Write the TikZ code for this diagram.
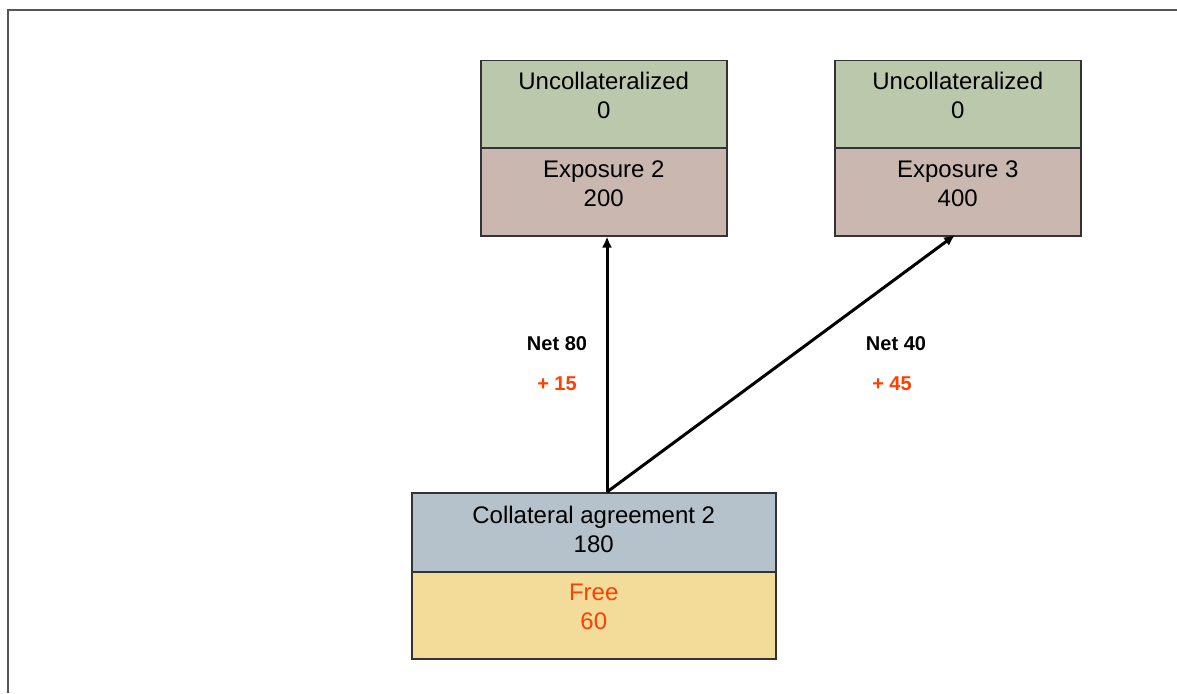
\documentclass[tikz,border=0pt]{standalone}
\usepackage{fontspec}
\setmainfont{Liberation Sans}
\usetikzlibrary{arrows.meta}
\definecolor{gbox}{RGB}{188,200,172}
\definecolor{pbox}{RGB}{201,183,176}
\definecolor{bbox}{RGB}{182,194,203}
\definecolor{ybox}{RGB}{243,220,154}
\definecolor{redtxt}{RGB}{255,64,0}
\definecolor{framec}{RGB}{85,85,85}
\tikzset{
  cell/.style={draw=black!80, line width=1.5pt, inner sep=0pt, anchor=north west},
  txt/.style={align=center, inner sep=0pt, font=\fontsize{24}{29}\selectfont},
  lbl/.style={font=\bfseries\fontsize{20}{22}\selectfont, inner sep=0pt},
  redlbl/.style={lbl, text=redtxt},
  arr/.style={line width=3pt, -{Latex[length=11pt,width=10pt]}},
}
\begin{document}
\begin{tikzpicture}[x=1pt,y=-1pt]
\useasboundingbox (0,0) rectangle (1177,693);
\draw[framec, line width=2pt] (8,693) -- (8,10) -- (1177,10);
% Exposure 2 column
\node[cell, fill=gbox, minimum width=246pt, minimum height=87pt] (A1) at (480,60) {};
\node[cell, fill=pbox, minimum width=246pt, minimum height=88pt] (A2) at (480,147) {};
\node[txt] (A1t) at ([yshift=9pt]A1.center) {Uncollateralized\\0};
\node[txt] (A2t) at ([yshift=8.5pt]A2.center) {Exposure 2\\200};
% Exposure 3 column
\node[cell, fill=gbox, minimum width=246pt, minimum height=87pt] (B1) at (834,60) {};
\node[cell, fill=pbox, minimum width=246pt, minimum height=88pt] (B2) at (834,147) {};
\node[txt] (B1t) at ([yshift=9pt]B1.center) {Uncollateralized\\0};
\node[txt] (B2t) at ([yshift=8.5pt]B2.center) {Exposure 3\\400};
% Collateral agreement
\node[cell, fill=bbox, minimum width=364pt, minimum height=79pt] (C1) at (411,492) {};
\node[cell, fill=ybox, minimum width=364pt, minimum height=87pt] (C2) at (411,571) {};
\node[txt] (C1t) at ([yshift=3pt]C1.center) {Collateral agreement 2\\180};
\node[txt, text=redtxt] (C2t) at ([yshift=8pt]C2.center) {Free\\60};
% connectors
\coordinate (s) at (607,492);
\coordinate (tB) at (955,235);
\draw[arr] (s) -- (s |- A2.south);
\draw[arr] (s) -- (tB);
% labels
\node[lbl] (n80) at (557,344) {Net 80};
\node[redlbl] (p15) at (557,384) {+ 15};
\node[lbl] (n40) at (896,344) {Net 40};
\node[redlbl] (p45) at (892,384) {+ 45};
\end{tikzpicture}
\end{document}
